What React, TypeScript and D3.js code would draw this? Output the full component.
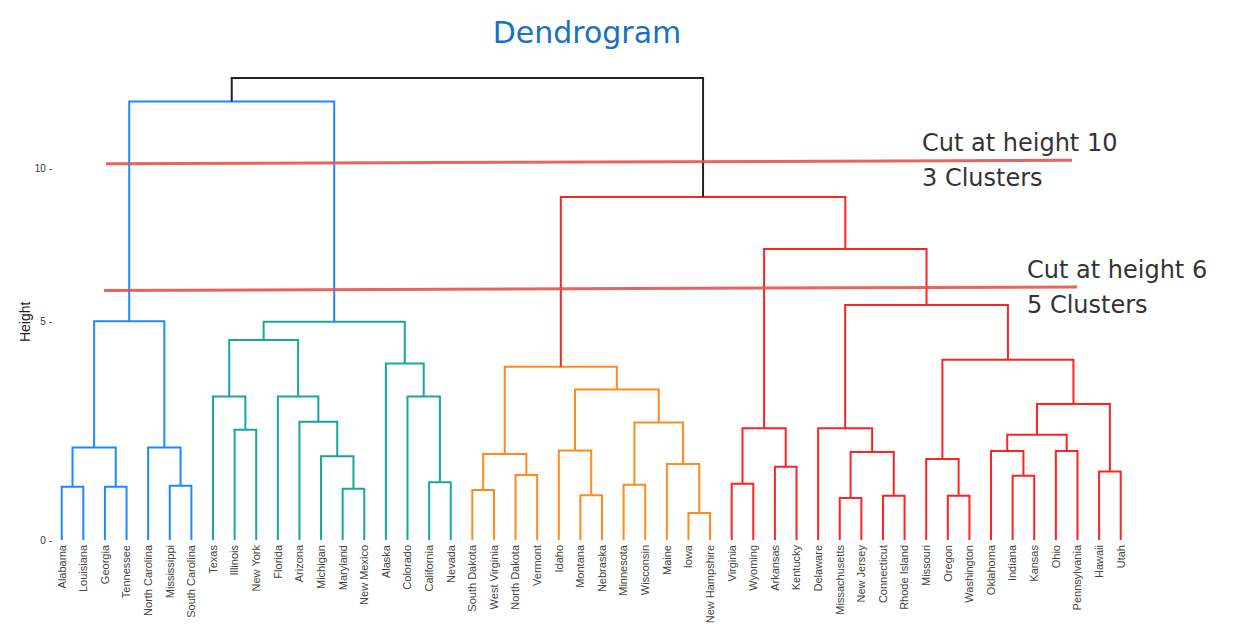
import React, { useEffect } from 'react';
import * as d3 from 'd3';

// leaf order, left to right
const states = [
  'Alabama', 'Louisiana', 'Georgia', 'Tennessee', 'North Carolina', 'Mississippi', 'South Carolina',
  'Texas', 'Illinois', 'New York', 'Florida', 'Arizona', 'Michigan', 'Maryland', 'New Mexico',
  'Alaska', 'Colorado', 'California', 'Nevada',
  'South Dakota', 'West Virginia', 'North Dakota', 'Vermont', 'Idaho', 'Montana', 'Nebraska',
  'Minnesota', 'Wisconsin', 'Maine', 'Iowa', 'New Hampshire',
  'Virginia', 'Wyoming', 'Arkansas', 'Kentucky', 'Delaware', 'Missachusetts', 'New Jersey',
  'Connecticut', 'Rhode Island', 'Missouri', 'Oregon', 'Washington', 'Oklahoma', 'Indiana',
  'Kansas', 'Ohio', 'Pennsylvania', 'Hawaii', 'Utah'
];

// hclust style merges: negative = leaf (1-based), positive = earlier merge row (1-based)
const merges: [number, number][] = [
  [-1, -2], [-3, -4], [-6, -7], [1, 2], [-5, 3], [4, 5],
  [-9, -10], [-8, 7], [-14, -15], [-13, 9], [-12, 10], [-11, 11], [8, 12],
  [-18, -19], [-17, 14], [-16, 15], [13, 16], [6, 17],
  [-20, -21], [-22, -23], [19, 20], [-25, -26], [-24, 22], [-27, -28], [-30, -31],
  [-29, 25], [24, 26], [23, 27], [21, 28],
  [-32, -33], [-34, -35], [30, 31], [-37, -38], [-39, -40], [33, 34], [-36, 35],
  [-42, -43], [-41, 37], [-45, -46], [-44, 39], [-47, -48], [40, 41], [-49, -50],
  [42, 43], [38, 44], [36, 45], [32, 46], [29, 47], [18, 48]
];

const heights = [
  0.8, 0.8, 0.82, 1.64, 1.64, 5.02,
  2.06, 2.9, 0.76, 1.44, 2.26, 2.9, 4.47,
  0.89, 2.9, 3.8, 5.0, 12.38,
  0.74, 1.04, 1.49, 0.64, 1.57, 0.84, 0.33,
  1.27, 2.24, 3.09, 3.71,
  0.86, 1.21, 2.1, 0.59, 0.63, 1.54, 2.1,
  0.63, 1.38, 1.02, 1.56, 1.56, 1.94, 1.11,
  2.71, 3.9, 5.51, 7.27, 9.0, 13.25
];

const clusters = [
  'a', 'a', 'a', 'a', 'a', 'a',
  'b', 'b', 'b', 'b', 'b', 'b', 'b',
  'b', 'b', 'b', 'b', 'a',
  'c', 'c', 'c', 'c', 'c', 'c', 'c',
  'c', 'c', 'c', 'c',
  'd', 'd', 'd', 'd', 'd', 'd', 'd',
  'd', 'd', 'd', 'd', 'd', 'd', 'd',
  'd', 'd', 'd', 'd', 'd', 'root'
];

const yTicks = [0, 5, 10];
const cutHeights = [10.2, 6.0];
const cutNotes = [['Cut at height 10', '3 Clusters'], ['Cut at height 6', '5 Clusters']];

const colors: Record<string, string> = {
  a: '#1e88ff',
  b: '#1aa59d',
  c: '#ff8c1a',
  d: '#ff2222',
  root: '#222222'
};

const W = 1259;
const H = 624;

const App = () => {
  useEffect(() => {
    document.body.style.margin = '0';
  }, []);

  const x = d3.scalePoint<string>().domain(states).range([61.7, 1120.7]);
  const y = d3.scalePow().exponent(0.77).domain([0, 10]).range([540, 168]);

  // positions of merge nodes
  const pos: { x: number; y: number }[] = [];
  const pt = (i: number) => (i < 0 ? { x: x(states[-i - 1])!, y: y(0) } : pos[i - 1]);
  const links = merges.map(([a, b], i) => {
    const l = pt(a);
    const r = pt(b);
    const p = { x: (l.x + r.x) / 2, y: y(heights[i]) };
    pos.push(p);
    const path = d3.path();
    path.moveTo(l.x, l.y);
    path.lineTo(l.x, p.y);
    path.lineTo(r.x, p.y);
    path.lineTo(r.x, r.y);
    return { d: path.toString(), color: colors[clusters[i]] };
  });

  const cutX = [[106, 1072], [104, 1077]];
  const noteX = [922, 1027];

  return (
    <svg width={W} height={H} style={{ display: 'block', background: '#fff' }}>
      <text x={587} y={43} textAnchor="middle" fontFamily="'Comic Sans MS', 'DejaVu Sans', sans-serif"
        fontSize={30} fill="#1971c2">Dendrogram</text>

      {/* y axis */}
      <g fontFamily="'Liberation Sans', Arial, sans-serif" fontSize={10} fill="#333">
        {yTicks.map(t => (
          <text key={t} x={52} y={y(t)} dy="0.35em" textAnchor="end">{`${t} -`}</text>
        ))}
        <text transform={`translate(30,${y(5)}) rotate(-90)`} textAnchor="middle"
          fontSize={14} fill="#222">Height</text>
      </g>

      {/* tree */}
      <g fill="none" strokeWidth={2}>
        {links.map((l, i) => <path key={i} d={l.d} stroke={l.color} />)}
      </g>

      {/* leaf labels */}
      <g fontFamily="'Liberation Sans', Arial, sans-serif" fontSize={11} fill="#444">
        {states.map(s => (
          <text key={s} transform={`translate(${x(s)},545) rotate(-90)`} dy="0.35em" textAnchor="end">{s}</text>
        ))}
      </g>

      {/* cut lines + notes */}
      {cutHeights.map((h, i) => (
        <g key={h}>
          <line x1={cutX[i][0]} x2={cutX[i][1]} y1={y(h) + 1.5} y2={y(h) - 2}
            stroke="#e5534b" strokeWidth={3} strokeOpacity={0.9} />
          <text x={noteX[i]} y={y(h) - 11} fontFamily="'DejaVu Sans', sans-serif" fontSize={24} fill="#333">
            {cutNotes[i][0]}
          </text>
          <text x={noteX[i]} y={y(h) + 24} fontFamily="'DejaVu Sans', sans-serif" fontSize={24} fill="#333">
            {cutNotes[i][1]}
          </text>
        </g>
      ))}
    </svg>
  );
};

export default App;
